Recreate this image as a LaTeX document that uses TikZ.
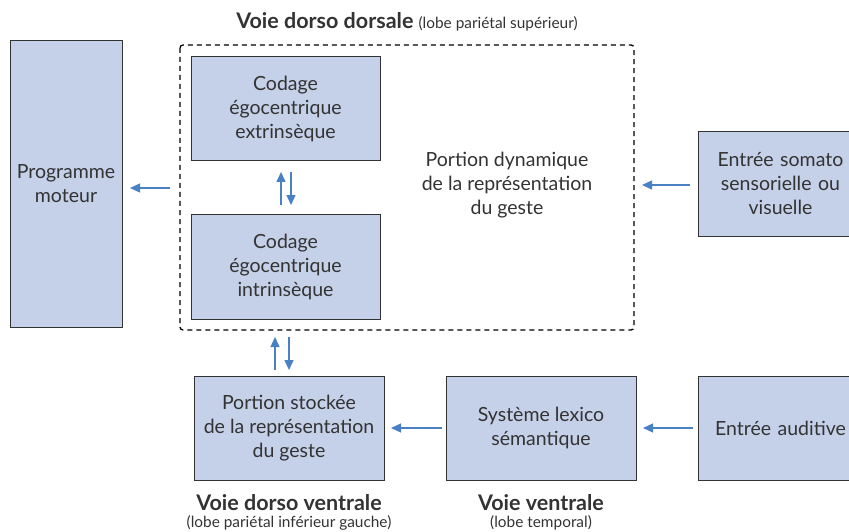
\documentclass[tikz,border=0pt]{standalone}
\usepackage{fontspec}
\setmainfont{Lato}
\usetikzlibrary{arrows.meta}
\definecolor{boxfill}{HTML}{C5D0E9}
\definecolor{boxline}{HTML}{333333}
\definecolor{arr}{HTML}{4A80C4}
\definecolor{txt}{HTML}{333333}
\tikzset{
  box/.style={draw=boxline, line width=1pt, fill=boxfill, text=txt, align=center, inner sep=0pt},
  flow/.style={draw=arr, line width=1.3pt, -{Triangle[length=10pt,width=9pt]}},
  lbl/.style={text=txt, align=center, inner sep=0pt},
  every node/.style={font=\fontsize{19.5}{24}\selectfont}
}
\begin{document}
\begin{tikzpicture}[x=1pt,y=-1pt]
\useasboundingbox (0,0) rectangle (849,532);
% boxes
\node[box, minimum width=112pt, minimum height=286pt] (prog) at (66,184) {Programme\\moteur};
\draw[dashed, line width=1.3pt, dash pattern=on 5pt off 4pt, rounded corners=3pt] (180,45) rectangle (634,330);
\coordinate (dl) at (170,188);
\coordinate (dr) at (642,185);
\node[box, minimum width=189pt, minimum height=104pt] (ext) at (285.5,109) {Codage\\égocentrique\\extrinsèque};
\node[box, minimum width=189pt, minimum height=105pt] (intr) at (285.5,266.5) {Codage\\égocentrique\\intrinsèque};
\node[lbl] (dyn) at (507,185) {Portion dynamique\\de la représentation\\du geste};
\node[box, minimum width=164pt, minimum height=105pt, anchor=west, text width=136pt] (soma) at (698,184) {Entrée somato\\sensorielle ou\\visuelle};
\node[box, minimum width=164pt, minimum height=104pt, anchor=west, text width=136pt] (aud) at (698,428) {Entrée auditive};
\node[box, minimum width=190pt, minimum height=104pt] (stock) at (289,428) {Portion stockée\\de la représentation\\du geste};
\node[box, minimum width=190pt, minimum height=104pt] (lex) at (541,428) {Système lexico\\sémantique};
% labels
\node[lbl] (top) at (407,22) {\fontsize{21.5}{24}\selectfont\bfseries Voie dorso dorsale \fontsize{15.4}{18}\selectfont\mdseries(lobe pariétal supérieur)};
\node[lbl] (vdv) at (289,503) {\fontsize{21.5}{24}\selectfont\bfseries Voie dorso ventrale};
\node[lbl] (vdvs) at (289,523) {\fontsize{15.4}{18}\selectfont(lobe pariétal inférieur gauche)};
\node[lbl] (vv) at (541,503) {\fontsize{21.5}{24}\selectfont\bfseries Voie ventrale};
\node[lbl] (vvs) at (541,523) {\fontsize{15.4}{18}\selectfont(lobe temporal)};
% arrows
\coordinate (pa) at (130,188);
\draw[flow] (dl) -- (pa);
\coordinate (sa) at (690,185);
\draw[flow] (sa) -- (dr);
\coordinate (la) at (442,428);
\coordinate (lb) at (391,428);
\draw[flow] (la) -- (lb);
\coordinate (aa) at (693,428);
\coordinate (ab) at (643,428);
\draw[flow] (aa) -- (ab);
\coordinate (c1) at (281,205);
\coordinate (c2) at (281,172);
\coordinate (c3) at (291,172);
\coordinate (c4) at (291,205);
\draw[flow] (c1) -- (c2);
\draw[flow] (c3) -- (c4);
\coordinate (ua) at (275,370);
\coordinate (ub) at (275,337);
\coordinate (da) at (289,337);
\coordinate (db) at (289,370);
\draw[flow] (ua) -- (ub);
\draw[flow] (da) -- (db);
\end{tikzpicture}
\end{document}
